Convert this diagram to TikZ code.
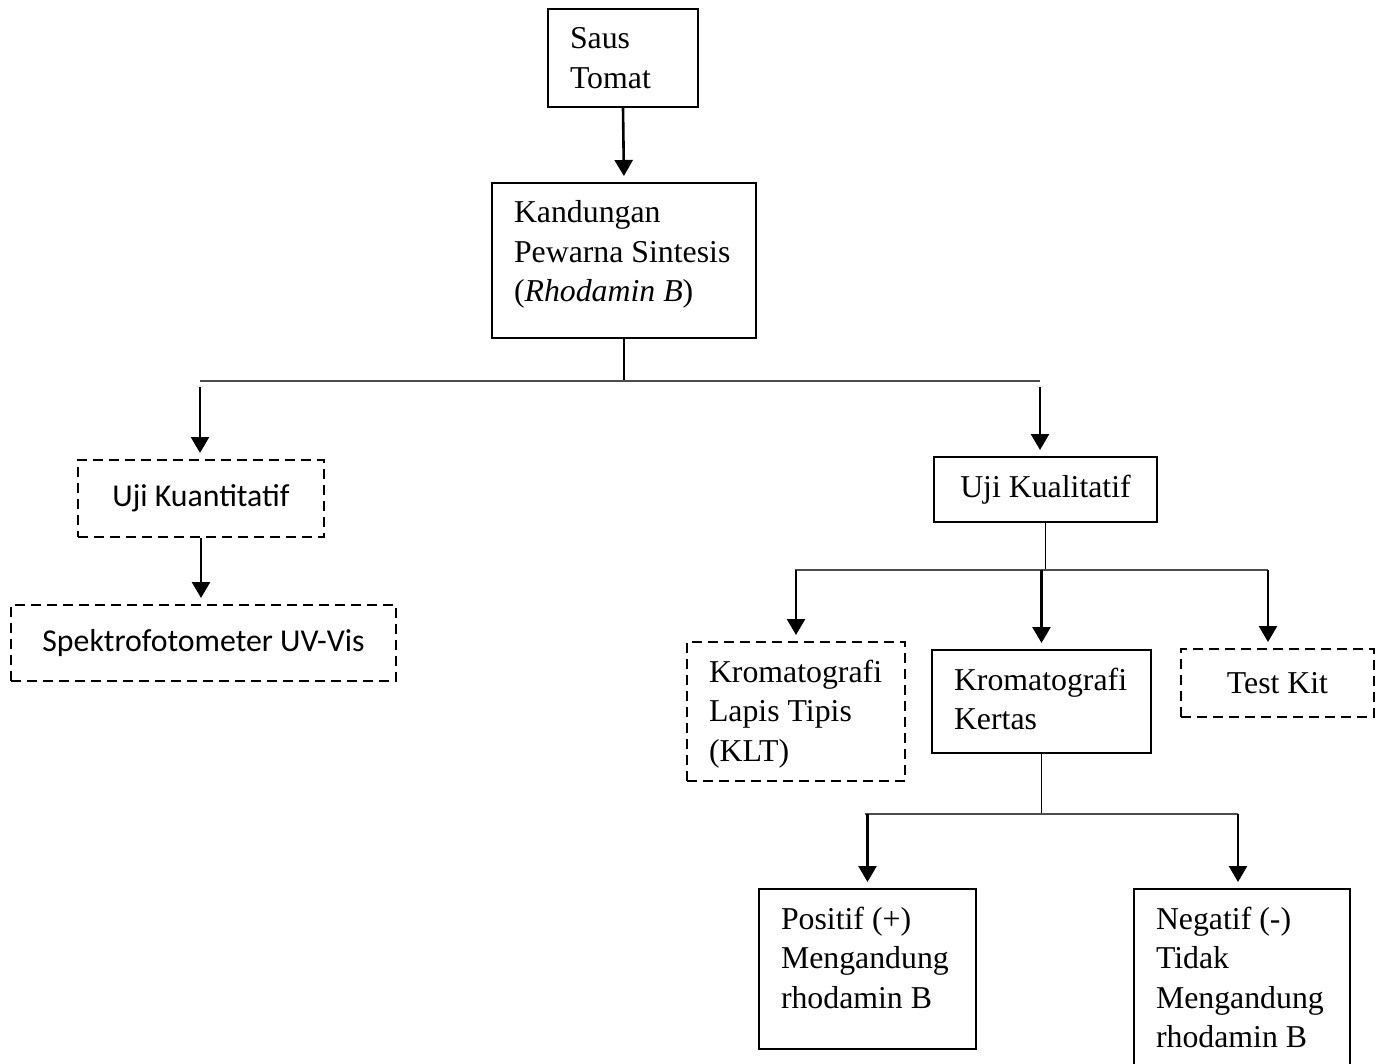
\documentclass[tikz,border=0pt]{standalone}
\usepackage{fontspec}
\setmainfont{Liberation Serif}
\newfontfamily\calibri{Carlito}
\usetikzlibrary{arrows.meta}

\tikzset{
  box/.style={draw, line width=1pt},
  tbox/.style={box, anchor=north west, align=flush left, inner xsep=11pt, inner ysep=0pt, text height=20pt},
  cbox/.style={box, inner sep=0pt},
  dbox/.style={dash pattern=on 5pt off 3pt},
  arr/.style={-{Triangle[length=8pt,width=9pt]}, line width=1.3pt, shorten >=3pt},
  link/.style={line width=0.7pt},
  bar/.style={line width=0.9pt, black!70},
}

\begin{document}
\begin{tikzpicture}[x=0.5pt,y=-0.5pt,font=\fontsize{15.9pt}{19.75pt}\selectfont]
\clip (0,0) rectangle (1382,1064);
\node (saus) [tbox, text width=53pt, text depth=29pt] at (547,8) {Saus\\Tomat};
\node (kand) [tbox, text width=110pt, text depth=57.5pt] at (491,182)
  {Kandungan\\Pewarna~Sintesis\\(\textit{Rhodamin~B})};
\node (kuanti) [cbox, dbox, minimum width=123pt, minimum height=38.5pt, font=\calibri\fontsize{15.9pt}{19pt}\selectfont]
  at (201,498.5) {Uji Kuantitatif};
\node (spektro) [cbox, dbox, minimum width=192.5pt, minimum height=38pt, font=\calibri\fontsize{15.9pt}{19pt}\selectfont]
  at (203.5,643) {Spektrofotometer UV-Vis};
\node (kuali) [cbox, minimum width=111.5pt, minimum height=32.5pt] at (1045.5,489.5) {Uji Kualitatif};
\node (klt) [tbox, dbox, text width=87pt, text depth=49.5pt] at (686,641)
  {Kromatografi\\Lapis~Tipis\\(KLT)};
\node (kertas) [tbox, text width=87.5pt, text depth=31.5pt] at (931,649) {Kromatografi\\Kertas};
\node (testkit) [cbox, dbox, minimum width=96.5pt, minimum height=34pt] at (1277.5,683) {Test Kit};
\node (positif) [tbox, text width=86.5pt, text depth=60pt] at (758,888)
  {Positif (+)\\Mengandung\\rhodamin~B};
\node (negatif) [tbox, text width=86pt, text depth=76pt] at (1133,888)
  {Negatif (-)\\Tidak\\Mengandung\\rhodamin~B};

\coordinate (b1l) at (200,381);
\coordinate (b1r) at (1040,381);
\coordinate (b2l) at (795,570);
\coordinate (b2r) at (1268,570);
\coordinate (b3l) at (865,814);
\coordinate (b3r) at (1238,814);

\draw[arr] (saus.south) -- (kand.north);
\draw[link] (kand.south) -- (kand.south |- b1l);
\draw[bar] (b1l) -- (b1r);
\draw[arr, shorten <=3pt] (b1l) -- (b1l |- kuanti.north);
\draw[arr, shorten <=3pt] (b1r) -- (b1r |- kuali.north);
\draw[arr] (kuanti.south) -- (kuanti.south |- spektro.north);
\draw[link] (kuali.south) -- (kuali.south |- b2l);
\draw[bar] (b2l) -- (b2r);
\draw[arr] (klt.north |- b2l) -- (klt.north);
\draw[arr] (kertas.north |- b2l) -- (kertas.north);
\draw[arr] (b2r) -- (b2r |- testkit.north);
\draw[link] (kertas.south) -- (kertas.south |- b3l);
\draw[bar] (b3l) -- (b3r);
\draw[arr] (positif.north |- b3l) -- (positif.north);
\draw[arr] (b3r) -- (b3r |- negatif.north);
\end{tikzpicture}
\end{document}
